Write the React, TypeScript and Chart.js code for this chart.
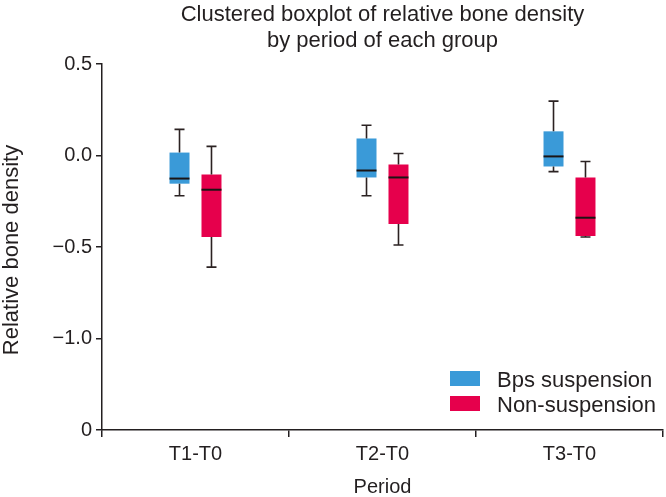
import React, { useEffect, useRef } from "react";
import { Chart, registerables } from "chart.js";

Chart.register(...registerables);

const categories = ["T1-T0", "T2-T0", "T3-T0"];
const seriesNames = ["Bps suspension", "Non-suspension"];
const seriesColors = ["#3a9ad8", "#e6004c"];

const bpsMin = [-0.22, -0.22, -0.088];
const bpsQ1 = [-0.154, -0.12, -0.06];
const bpsMedian = [-0.126, -0.082, -0.005];
const bpsQ3 = [0.016, 0.093, 0.132];
const bpsMax = [0.143, 0.165, 0.297];

const nonMin = [-0.61, -0.489, -0.445];
const nonQ1 = [-0.445, -0.374, -0.44];
const nonMedian = [-0.187, -0.12, -0.34];
const nonQ3 = [-0.104, -0.049, -0.12];
const nonMax = [0.05, 0.011, -0.033];

const yTickValues = [-1.5, -1.0, -0.5, 0.0, 0.5];
const yTickLabels = ["0", "\u22121.0", "\u22120.5", "0.0", "0.5"];

const titleLines = ["Clustered boxplot of relative bone density", "by period of each group"];
const xTitle = "Period";
const yTitle = "Relative bone density";

const FONT = "'Liberation Sans', Arial, sans-serif";
const INK = "#231f20";

const stats = [
  { min: bpsMin, q1: bpsQ1, med: bpsMedian, q3: bpsQ3, max: bpsMax },
  { min: nonMin, q1: nonQ1, med: nonMedian, q3: nonQ3, max: nonMax },
];

const boxPlugin = {
  id: "boxExtras",
  afterDatasetsDraw(chart: any) {
    const ctx = chart.ctx;
    const y = chart.scales.y;
    ctx.save();
    chart.data.datasets.forEach((_: any, di: number) => {
      const meta = chart.getDatasetMeta(di);
      const s = stats[di];
      meta.data.forEach((el: any, i: number) => {
        const x = el.x;
        const w = el.width;
        const pMin = y.getPixelForValue(s.min[i]);
        const pQ1 = y.getPixelForValue(s.q1[i]);
        const pMed = y.getPixelForValue(s.med[i]);
        const pQ3 = y.getPixelForValue(s.q3[i]);
        const pMax = y.getPixelForValue(s.max[i]);
        ctx.strokeStyle = "#2b2222";
        ctx.lineWidth = 1.6;
        ctx.beginPath();
        ctx.moveTo(x, pMax);
        ctx.lineTo(x, pQ3);
        ctx.moveTo(x, pQ1);
        ctx.lineTo(x, pMin);
        const cap = 5;
        ctx.moveTo(x - cap, pMax);
        ctx.lineTo(x + cap, pMax);
        ctx.moveTo(x - cap, pMin);
        ctx.lineTo(x + cap, pMin);
        ctx.stroke();
        ctx.strokeStyle = "#1a1414";
        ctx.lineWidth = 2;
        ctx.beginPath();
        ctx.moveTo(x - w / 2, pMed);
        ctx.lineTo(x + w / 2, pMed);
        ctx.stroke();
      });
    });
    ctx.restore();
  },
  afterDraw(chart: any) {
    const ctx = chart.ctx;
    const area = chart.chartArea;
    const cx = (area.left + area.right) / 2;
    ctx.save();
    ctx.fillStyle = INK;
    ctx.textAlign = "center";
    ctx.textBaseline = "alphabetic";
    ctx.font = `22px ${FONT}`;
    ctx.fillText(titleLines[0], cx, 21);
    ctx.fillText(titleLines[1], cx, 47);
    ctx.textBaseline = "middle";
    ctx.font = `20px ${FONT}`;
    ctx.fillText(xTitle, cx, 487);
    ctx.save();
    ctx.font = `22px ${FONT}`;
    ctx.translate(12, 250);
    ctx.rotate(-Math.PI / 2);
    ctx.fillText(yTitle, 0, 0);
    ctx.restore();
    // legend
    ctx.textAlign = "left";
    ctx.textBaseline = "alphabetic";
    ctx.font = `22px ${FONT}`;
    seriesNames.forEach((n, i) => {
      const top = 371 + i * 25;
      ctx.fillStyle = seriesColors[i];
      ctx.fillRect(450, top, 30, 15);
      ctx.fillStyle = INK;
      ctx.fillText(n, 497, top + 16);
    });
    ctx.restore();
  },
};

export default function App() {
  const ref = useRef<HTMLCanvasElement | null>(null);
  useEffect(() => {
    if (!ref.current) return;
    const chart = new Chart(ref.current, {
      type: "bar",
      data: {
        labels: categories,
        datasets: seriesNames.map((name, di) => ({
          label: name,
          data: stats[di].q1.map((q1, i) => [q1, stats[di].q3[i]]),
          backgroundColor: seriesColors[di],
          borderWidth: 0,
          categoryPercentage: 0.342,
          barPercentage: 0.625,
        })),
      },
      options: {
        responsive: true,
        maintainAspectRatio: false,
        animation: false,
        layout: { padding: { top: 64, right: 3, left: 0, bottom: 0 } },
        plugins: {
          legend: { display: false },
          title: { display: false },
          tooltip: { enabled: false },
        },
        scales: {
          x: {
            offset: true,
            grid: {
              display: true,
              offset: true,
              drawOnChartArea: false,
              drawTicks: true,
              tickLength: 7,
              color: INK,
              lineWidth: 1.5,
            },
            border: { display: true, color: INK, width: 1.5 },
            ticks: { color: INK, font: { family: FONT, size: 20 }, padding: 5 },
            afterFit: (s: any) => {
              s.height = 67;
            },
          },
          y: {
            min: -1.5,
            max: 0.5,
            afterBuildTicks: (s: any) => {
              s.ticks = yTickValues.map((v) => ({ value: v }));
            },
            grid: {
              display: true,
              drawOnChartArea: false,
              drawTicks: true,
              tickLength: 6,
              color: INK,
              lineWidth: 1.5,
            },
            border: { display: true, color: INK, width: 1.5 },
            ticks: {
              color: INK,
              font: { family: FONT, size: 20 },
              padding: 4,
              callback: (_v: any, i: number) => yTickLabels[i],
            },
            afterFit: (s: any) => {
              s.width = 102;
            },
          },
        },
      },
      plugins: [boxPlugin],
    });
    return () => chart.destroy();
  }, []);
  return (
    <div style={{ position: "absolute", left: 0, top: 0, width: 666, height: 497 }}>
      <canvas ref={ref} />
    </div>
  );
}
